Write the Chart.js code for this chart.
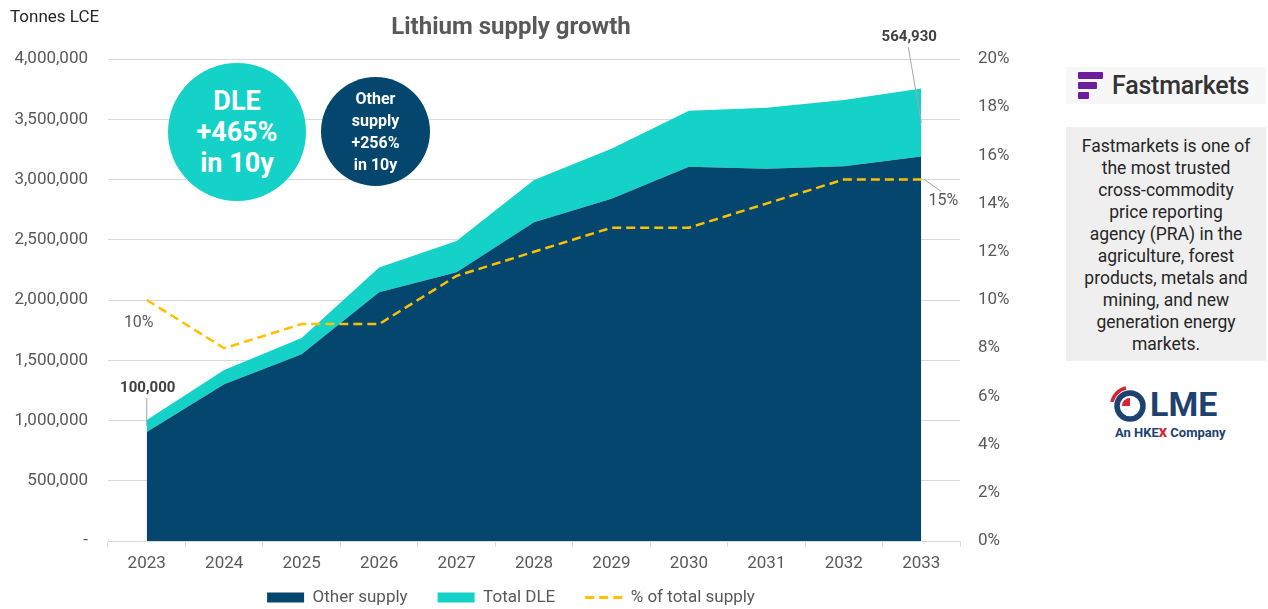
<!DOCTYPE html>
<html>
<head>
<meta charset="utf-8">
<title>Lithium supply growth</title>
<script src="https://cdn.jsdelivr.net/npm/chart.js@4.4.0/dist/chart.umd.min.js"></script>
<style>
  body { margin: 0; background: #fff; font-family: Roboto, sans-serif; overflow: hidden; }
  #wrap { position: relative; width: 1268px; height: 609px; overflow: hidden; }
  #supplyChart { position: absolute; left: 0; top: 0; }
  .unit { position: absolute; left: 10px; top: 6px; font-size: 17px; color: #262626; }
  .bubble { position: absolute; border-radius: 50%; color: #fff; font-weight: bold; text-align: center;
            display: flex; align-items: center; justify-content: center; }
  .bubble.dle { left: 168px; top: 63px; width: 138px; height: 138px; background: #14d2c8; font-size: 27px; line-height: 31px; }
  .bubble.other { left: 321px; top: 77px; width: 109px; height: 109px; background: #04466e; font-size: 16px; line-height: 22px; }
  .fm-logo { position: absolute; left: 1066px; top: 67px; width: 200px; height: 37px; background: #f7f7f7; }
  .fm-logo .bar { position: absolute; left: 12px; height: 7px; background: #6c1d9c; border-radius: 1px; }
  .fm-logo .name { position: absolute; left: 46px; top: 4px; font-size: 25px; font-weight: 500; color: #333; letter-spacing: -0.2px; }
  .fm-text { position: absolute; left: 1066px; top: 127px; width: 200px; height: 234px; background: #efefef;
             box-sizing: border-box; padding-top: 8px; text-align: center; font-size: 17.5px; line-height: 22px; color: #262626; white-space: nowrap; }
  .lme { position: absolute; left: 1108px; top: 385px; width: 130px; height: 60px; color: #1d4270; }
  .lme .word { position: absolute; left: 42px; top: -1px; font-size: 34px; font-weight: bold; }
  .lme .sub { position: absolute; left: 7px; top: 40px; font-size: 13px; font-weight: bold; }
  .lme .sub b { color: #d9232e; }
</style>
</head>
<body>
<div id="wrap">
  <canvas id="supplyChart" width="1022" height="632"></canvas>
  <div class="unit">Tonnes LCE</div>
  <div class="bubble dle"><div>DLE<br>+465%<br>in 10y</div></div>
  <div class="bubble other"><div>Other<br>supply<br>+256%<br>in 10y</div></div>

  <div class="fm-logo">
    <div class="bar" style="top:5px;width:25px"></div>
    <div class="bar" style="top:15px;width:19px"></div>
    <div class="bar" style="top:25px;width:11px"></div>
    <div class="name">Fastmarkets</div>
  </div>
  <div class="fm-text">Fastmarkets is one of<br>the most trusted<br>cross-commodity<br>price reporting<br>agency (PRA) in the<br>agriculture, forest<br>products, metals and<br>mining, and new<br>generation energy<br>markets.</div>
  <div class="lme">
    <svg width="42" height="42" style="position:absolute;left:0;top:1px">
      <circle cx="22" cy="20" r="13" fill="none" stroke="#1d4270" stroke-width="5.5"/>
      <path d="M4 16 A18 18 0 0 1 18 2" fill="none" stroke="#d9232e" stroke-width="3.5"/>
      <path d="M22 20 L22 12 A8 8 0 0 0 14 20 Z" fill="#d9232e"/>
    </svg>
    <div class="word">LME</div>
    <div class="sub">An HKE<b>X</b> Company</div>
  </div>
</div>

<script>
const years       = ["2023", "2024", "2025", "2026", "2027", "2028", "2029", "2030", "2031", "2032", "2033"];
const otherSupply = [904000, 1300000, 1550000, 2065000, 2230000, 2645000, 2840000, 3105000, 3090000, 3110000, 3190000];
const totalDLE    = [100000, 120000, 135000, 205000, 260000, 350000, 415000, 465000, 505000, 550000, 564930];
const dleShare    = [10, 8, 9, 9, 11, 12, 13, 13, 14, 15, 15];

const NAVY   = "#04466e";
const TEAL   = "#14d2c8";
const YELLOW = "#ffc000";
const GREY   = "#595959";
const GRID   = "#d9d9d9";

Chart.defaults.font.family = "Roboto, sans-serif";
Chart.defaults.color = GREY;

/* ── callout labels + leader lines ── */
const calloutPlugin = {
  id: "callouts",
  afterDatasetsDraw(chart) {
    const { ctx, scales: { x, y, y1 } } = chart;
    const last = years.length - 1;
    const x0 = x.getPixelForValue(0);
    const xN = x.getPixelForValue(last);
    const mid0 = y.getPixelForValue(otherSupply[0] + totalDLE[0] / 2);
    const midN = y.getPixelForValue(otherSupply[last] + totalDLE[last] / 2);
    const pctN = y1.getPixelForValue(dleShare[last]);
    const pct0 = y1.getPixelForValue(dleShare[0]);

    ctx.save();
    ctx.strokeStyle = "#a6a6a6";
    ctx.lineWidth = 1;
    ctx.beginPath();
    ctx.moveTo(x0, mid0 - 28); ctx.lineTo(x0, mid0);
    ctx.moveTo(xN - 13, 47);   ctx.lineTo(xN, midN);
    ctx.moveTo(xN + 3, pctN);  ctx.lineTo(xN + 20, pctN + 12);
    ctx.stroke();

    ctx.textAlign = "center";
    ctx.textBaseline = "middle";
    ctx.fillStyle = "#404040";
    ctx.font = "bold 15px Roboto, sans-serif";
    ctx.fillText(totalDLE[0].toLocaleString("en-US"), x0 + 1, mid0 - 38);
    ctx.fillText(totalDLE[last].toLocaleString("en-US"), xN - 12, 37);

    ctx.fillStyle = GREY;
    ctx.font = "16px Roboto, sans-serif";
    ctx.fillText(dleShare[0] + "%", x0 - 8, pct0 + 23);
    ctx.fillText(dleShare[last] + "%", xN + 22, pctN + 21);
    ctx.restore();
  }
};

/* legend sits closer to the axis labels than its padding allows */
const legendNudge = {
  id: "legendNudge",
  afterLayout(chart) {
    chart.legend.top -= 16;
    chart.legend.bottom -= 16;
  }
};

new Chart(document.getElementById("supplyChart"), {
  type: "line",
  data: {
    labels: years,
    datasets: [
      {
        label: "Other supply",
        data: otherSupply,
        backgroundColor: NAVY,
        borderColor: NAVY,
        borderWidth: 0,
        pointRadius: 0,
        tension: 0,
        fill: "origin",
        yAxisID: "y",
        order: 1
      },
      {
        label: "Total DLE",
        data: totalDLE,
        backgroundColor: TEAL,
        borderColor: TEAL,
        borderWidth: 0,
        pointRadius: 0,
        tension: 0,
        fill: "-1",
        yAxisID: "y",
        order: 1
      },
      {
        label: "% of total supply",
        data: dleShare,
        borderColor: YELLOW,
        backgroundColor: YELLOW,
        borderWidth: 2.5,
        borderDash: [9, 5],
        pointRadius: 0,
        tension: 0,
        fill: false,
        yAxisID: "y1",
        order: 0
      }
    ]
  },
  options: {
    responsive: false,
    animation: false,
    layout: { padding: 0 },
    scales: {
      x: {
        offset: true,
        grid: { offset: true, drawOnChartArea: false, drawTicks: true, tickLength: 6, color: GRID },
        border: { color: GRID },
        ticks: { font: { size: 17 }, padding: 7, maxRotation: 0 },
        afterFit: s => { s.height = 34; }
      },
      y: {
        stacked: true,
        min: 0, max: 4000000,
        grid: { color: GRID, drawTicks: false },
        border: { display: false },
        ticks: {
          stepSize: 500000, padding: 20, font: { size: 17 },
          callback: v => v === 0 ? "-" : v.toLocaleString("en-US")
        },
        afterFit: s => { s.width = 108; }
      },
      y1: {
        position: "right",
        min: 0, max: 20,
        grid: { drawOnChartArea: false, drawTicks: false },
        border: { display: false },
        ticks: { stepSize: 2, padding: 18, font: { size: 17 }, callback: v => v + "%" },
        afterFit: s => { s.width = 62; }
      }
    },
    plugins: {
      filler: { drawTime: "beforeDatasetsDraw" },
      title: {
        display: true,
        text: "Lithium supply growth",
        color: GREY,
        font: { size: 24, weight: "bold" },
        padding: { top: 14, bottom: 16.2 }
      },
      legend: {
        position: "bottom",
        labels: {
          usePointStyle: true,
          pointStyleWidth: 37,
          boxHeight: 10,
          padding: 30,
          font: { size: 17 },
          generateLabels: chart => chart.data.datasets.map((ds, i) => ({
            text: ds.label,
            fillStyle: ds.backgroundColor,
            strokeStyle: ds.borderColor,
            lineWidth: ds.fill === false ? 3 : 0,
            lineDash: ds.borderDash || [],
            pointStyle: ds.fill === false ? "line" : "rect",
            fontColor: GREY,
            hidden: false,
            datasetIndex: i
          }))
        }
      },
      tooltip: { enabled: false }
    }
  },
  plugins: [calloutPlugin, legendNudge]
});
</script>
</body>
</html>
